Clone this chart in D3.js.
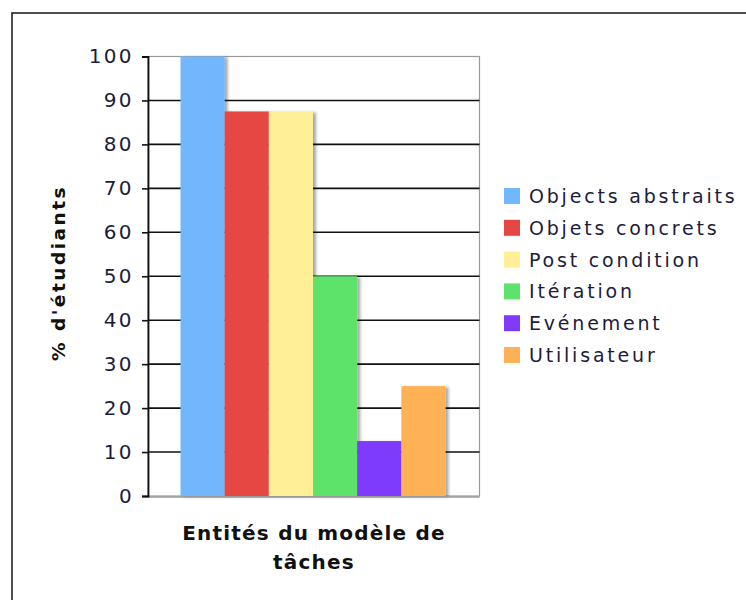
<!DOCTYPE html>
<html>
<head>
<meta charset="utf-8">
<script src="https://cdn.jsdelivr.net/npm/d3@7"></script>
<style>
  html, body { margin: 0; padding: 0; background: #fff; }
  svg { display: block; }
</style>
</head>
<body>
<svg id="chart" width="746" height="600"></svg>
<script>
// Entités du modèle de tâches — % d'étudiants
const categories = ["Objects abstraits", "Objets concrets", "Post condition", "Itération", "Evénement", "Utilisateur"];
const values = [100, 87.5, 87.5, 50, 12.5, 25];
const colors = ["#72b7fd", "#e64742", "#fff097", "#5de26a", "#7f3afc", "#ffb155"];
const yTicks = [0, 10, 20, 30, 40, 50, 60, 70, 80, 90, 100];

const svg = d3.select("#chart");
const textColor = "#1c1c3a";
const font = "'DejaVu Sans', Verdana, sans-serif";

// outer frame
svg.append("rect")
  .attr("x", 12).attr("y", 13)
  .attr("width", 760).attr("height", 620)
  .attr("fill", "none").attr("stroke", "#222").attr("stroke-width", 1.6);

const plot = { left: 148, right: 479.5, top: 56.5, bottom: 496 };

const y = d3.scaleLinear().domain([0, 100]).range([plot.bottom, plot.top]);
const x = d3.scaleBand().domain(categories)
  .range([180.5, 445.5]).paddingInner(0).paddingOuter(0);

// soft drop shadow behind bars
const defs = svg.append("defs");
const f = defs.append("filter").attr("id", "shadow")
  .attr("x", "-20%").attr("y", "-5%").attr("width", "150%").attr("height", "120%");
f.append("feGaussianBlur").attr("in", "SourceAlpha").attr("stdDeviation", 1.5).attr("result", "b");
f.append("feOffset").attr("in", "b").attr("dx", 3).attr("dy", 1).attr("result", "o");
f.append("feComponentTransfer").attr("in", "o").attr("result", "s")
  .append("feFuncA").attr("type", "linear").attr("slope", 0.35);
const m = f.append("feMerge");
m.append("feMergeNode").attr("in", "s");
m.append("feMergeNode").attr("in", "SourceGraphic");

// plot frame in grey
svg.append("rect")
  .attr("x", plot.left).attr("y", plot.top)
  .attr("width", plot.right - plot.left).attr("height", plot.bottom - plot.top)
  .attr("fill", "none").attr("stroke", "#9a9a9a").attr("stroke-width", 1.2);

// horizontal gridlines
svg.append("g")
  .selectAll("line")
  .data(yTicks.filter(d => d > 0 && d < 100))
  .join("line")
  .attr("x1", plot.left).attr("x2", plot.right)
  .attr("y1", d => y(d)).attr("y2", d => y(d))
  .attr("stroke", "#111").attr("stroke-width", 1.6);

// bars
svg.append("g")
  .selectAll("rect")
  .data(categories)
  .join("rect")
  .attr("x", d => x(d))
  .attr("y", (d, i) => y(values[i]))
  .attr("width", x.bandwidth())
  .attr("height", (d, i) => y(0) - y(values[i]))
  .attr("fill", (d, i) => colors[i])
  .attr("filter", "url(#shadow)");

// bottom baseline
svg.append("line")
  .attr("x1", plot.left).attr("x2", plot.right)
  .attr("y1", plot.bottom + 1).attr("y2", plot.bottom + 1)
  .attr("stroke", "#9a9a9a").attr("stroke-width", 1.6);

// y axis
const yAxis = d3.axisLeft(y).tickValues(yTicks).tickSize(6).tickPadding(8);
const gy = svg.append("g").attr("transform", `translate(${plot.left},0)`).call(yAxis);
gy.select(".domain").attr("stroke", "#111").attr("stroke-width", 1.8);
gy.selectAll(".tick line").attr("stroke", "#111").attr("stroke-width", 1.6);
gy.selectAll(".tick text")
  .attr("fill", textColor)
  .style("font-family", font)
  .style("font-size", "20px")
  .style("letter-spacing", "2.4px");

// y title
svg.append("text")
  .attr("transform", "translate(65,273) rotate(-90)")
  .attr("text-anchor", "middle")
  .attr("fill", "#111")
  .style("font-family", font)
  .style("font-weight", "bold")
  .style("font-size", "18.5px")
  .style("letter-spacing", "2.5px")
  .text("% d'étudiants");

// x title
const xt = svg.append("text")
  .attr("text-anchor", "middle")
  .attr("fill", "#111")
  .style("font-family", font)
  .style("font-weight", "bold")
  .style("font-size", "20px")
  .style("letter-spacing", "1.2px");
xt.append("tspan").attr("x", 314).attr("y", 540).text("Entités du modèle de");
xt.append("tspan").attr("x", 314).attr("y", 569).text("tâches");

// legend
const lg = svg.append("g")
  .selectAll("g")
  .data(categories)
  .join("g")
  .attr("transform", (d, i) => `translate(504,${196 + i * 31.8})`);
lg.append("rect")
  .attr("x", 0).attr("y", -8)
  .attr("width", 16).attr("height", 16)
  .attr("fill", (d, i) => colors[i]);
lg.append("text")
  .attr("x", 25).attr("y", 7)
  .attr("fill", textColor)
  .style("font-family", font)
  .style("font-size", "19px")
  .style("letter-spacing", "2.8px")
  .text(d => d);
</script>
</body>
</html>
